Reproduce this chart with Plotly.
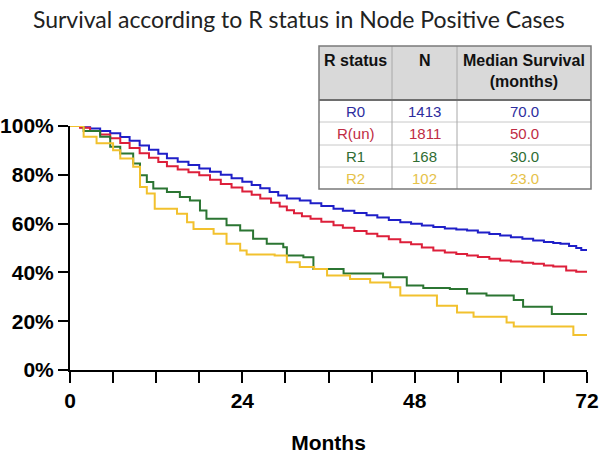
import plotly.graph_objects as go

# ---- data ----
r0_months = [0, 1.5, 2.8, 4.2, 5.6, 7, 8.3, 9.7, 11, 12.3, 13.5, 15, 16.5, 18, 19.5, 21, 22.5, 24, 25.3, 26.5,
             27.8, 29, 30.2, 32, 33.5, 35, 36.7, 38, 39.6, 41.3, 42.8, 44.4, 46, 47.5, 49, 50.6, 52.2, 53.8,
             55.3, 56.8, 58.4, 59.9, 61.4, 63, 64.5, 66, 67.3, 68.3, 69.5, 70.5, 71.2, 72]
r0_surv = [100, 99.5, 99, 98, 97, 95.5, 94, 92, 90.3, 88.6, 86.8, 85.3, 84, 82.6, 81.3, 80, 78.6, 77.2, 75.8, 74.5,
           73, 71.5, 70.3, 69.5, 68.3, 67.2, 66.1, 65.3, 64.3, 63.4, 62.5, 61.5, 60.6, 59.9, 59.2, 58.6, 58, 57.6,
           57.2, 56.4, 55.7, 55.1, 54.4, 53.8, 53.1, 52.5, 52, 51.7, 50.8, 50, 49.2, 49.2]

run_months = [0, 1.4, 2.8, 4.2, 5.6, 7, 8.3, 9.7, 11, 12.3, 13.5, 15, 16.5, 18, 19.5, 21, 22.5, 24, 25.3, 26.5,
              28, 29.2, 30.2, 31.2, 32.3, 33.5, 35, 36.7, 38, 39.6, 41.3, 42.8, 44.4, 46, 47.5, 49, 50.6, 52.2,
              53.8, 55.3, 56.8, 58.4, 59.9, 61.4, 63, 64.5, 66, 67.3, 69.1, 70.5, 72]
run_surv = [100, 99.3, 98, 96.5, 95, 93, 91, 88.8, 87, 85.2, 83.5, 82.2, 81, 79.8, 78, 76.2, 74.8, 73.2, 71.8, 70.3,
            68.5, 67, 65.5, 64.2, 63, 62, 60.8, 59.3, 58.3, 57, 55.8, 54.8, 53.6, 52.4, 51.5, 50.2, 49, 48.2,
            47.5, 46.9, 46.3, 45.6, 44.9, 44.5, 44, 43.5, 42.8, 42.4, 40.8, 40.3, 40.3]

r1_months = [0, 1.9, 4.2, 5.6, 7, 8.8, 9.75, 10.7, 11.6, 13.5, 15.3, 16.7, 18.1, 19, 21.8, 23.7, 25.5, 27.4, 29.7,
             30.2, 32.5, 33.9, 38.1, 43.6, 46.9, 49.2, 52.9, 55.3, 58, 61.8, 63.1, 67.1, 72]
r1_surv = [100, 98, 95.6, 91.5, 88.7, 84.6, 79.8, 77, 74.4, 73, 70.9, 69.5, 65.4, 62, 59.3, 57.2, 53.8, 51.7, 50.3,
           46.9, 46.2, 41.4, 39.6, 38, 34.6, 33.6, 33.2, 31.4, 30.5, 28.7, 25.9, 22.9, 22.9]

r2_months = [0, 1.9, 3.7, 6, 7, 8.8, 9.75, 10.7, 11.8, 14.9, 16.3, 17.2, 20, 21.8, 23.7, 24.6, 28.5, 30.2, 32, 34,
             35.8, 39, 41.8, 44.6, 46, 51.1, 53.9, 56.2, 60.8, 61.8, 70.1, 72]
r2_surv = [100, 95.6, 92.9, 90.1, 86.7, 83.3, 75, 72.3, 66.1, 64, 60.6, 57.8, 55.8, 51.7, 49, 47.3, 46.9, 44.2, 42.2,
           41.4, 38.7, 37.3, 35.9, 33.9, 30.5, 26.3, 23.6, 21.8, 19.5, 17.8, 14.3, 14.3]

groups = ["R0", "R(un)", "R1", "R2"]
group_n = ["1413", "1811", "168", "102"]
group_median = ["70.0", "50.0", "30.0", "23.0"]
header_labels = ["R status", "N", "Median Survival<br>(months)"]

x_tickvals = list(range(0, 73, 6))
x_ticktext = [str(v) if v % 24 == 0 else "" for v in x_tickvals]
y_tickvals = [0, 20, 40, 60, 80, 100]
y_ticktext = [f"{v}%" for v in y_tickvals]

line_colors = ["#1f1fc8", "#dd1f3a", "#2b7532", "#f2c12e"]
text_colors = ["#2d2d9e", "#c02c44", "#2f6d33", "#e6c24a"]

FONT = "Liberation Sans, Arial, sans-serif"

fig = go.Figure()
series = [(r0_months, r0_surv), (run_months, run_surv), (r1_months, r1_surv), (r2_months, r2_surv)]
for name, (xs, ys), col in zip(groups, series, line_colors):
    fig.add_trace(go.Scatter(x=xs, y=ys, mode="lines", name=name, line=dict(color=col, width=2, shape="hv"),
                             cliponaxis=False, showlegend=False, hoverinfo="skip"))

# plot area geometry (pixels)
L, R, T, B = 70, 587, 126, 370
W, H = 600, 455


def px(xp):
    return (xp - L) / (R - L)


def py(yp):
    return (B - yp) / (B - T)


shapes = []
annotations = []

# table geometry
tx = [319, 392, 457, 591]
ty = [46, 100, 122, 145, 167, 189]

shapes.append(dict(type="rect", xref="paper", yref="paper", x0=px(tx[0]), x1=px(tx[3]), y0=py(ty[1]), y1=py(ty[0]),
                   fillcolor="#d9d9d9", line=dict(width=0), layer="above"))
shapes.append(dict(type="rect", xref="paper", yref="paper", x0=px(tx[0]), x1=px(tx[3]), y0=py(ty[5]), y1=py(ty[1]),
                   fillcolor="white", line=dict(width=0), layer="above"))
for yy in ty[2:5]:
    shapes.append(dict(type="line", xref="paper", yref="paper", x0=px(tx[0]), x1=px(tx[3]), y0=py(yy), y1=py(yy),
                       line=dict(color="#c8c8c8", width=1), layer="above"))
for xx in tx[1:3]:
    shapes.append(dict(type="line", xref="paper", yref="paper", x0=px(xx), x1=px(xx), y0=py(ty[5]), y1=py(ty[0]),
                       line=dict(color="#a8a8a8", width=1), layer="above"))
shapes.append(dict(type="line", xref="paper", yref="paper", x0=px(tx[0]), x1=px(tx[3]), y0=py(ty[1]), y1=py(ty[1]),
                   line=dict(color="#6e6e6e", width=2), layer="above"))
shapes.append(dict(type="rect", xref="paper", yref="paper", x0=px(tx[0]), x1=px(tx[3]), y0=py(ty[5]), y1=py(ty[0]),
                   line=dict(color="#7a7a7a", width=1.5), layer="above"))

col_centers = [(tx[i] + tx[i + 1]) / 2 for i in range(3)]
for i, lab in enumerate(header_labels):
    annotations.append(dict(xref="paper", yref="paper", x=px(col_centers[i]), y=py(50), xanchor="center",
                            yanchor="top", text=f"<b>{lab}</b>", showarrow=False,
                            font=dict(family=FONT, size=16, color="#111")))
for r in range(4):
    yc = (ty[r + 1] + ty[r + 2]) / 2
    for c, val in enumerate([groups[r], group_n[r], group_median[r]]):
        annotations.append(dict(xref="paper", yref="paper", x=px(col_centers[c]), y=py(yc), xanchor="center",
                                yanchor="middle", text=val, showarrow=False,
                                font=dict(family=FONT, size=15, color=text_colors[r])))

fig.update_layout(
    width=W, height=H,
    margin=dict(l=L, r=W - R, t=T, b=H - B, autoexpand=False),
    paper_bgcolor="white", plot_bgcolor="white",
    hovermode=False,
    title=dict(text="Survival according to R status in Node Positive Cases", xref="container", x=0.498,
               xanchor="center", yref="container", y=1 - 20 / H, yanchor="middle", automargin=False,
               font=dict(family="Lato, Noto Sans, sans-serif", size=23, color="#222")),
    xaxis=dict(range=[0, 72], tickvals=x_tickvals, ticktext=x_ticktext, ticks="outside", ticklen=11,
               tickwidth=2, tickcolor="black", showline=True, linewidth=2, linecolor="black",
               showgrid=False, zeroline=False, automargin=False, fixedrange=True,
               tickfont=dict(family=FONT, size=21, color="black", weight="bold"),
               title=dict(text="Months", font=dict(family=FONT, size=21, color="black", weight="bold"),
                          standoff=24)),
    yaxis=dict(range=[0, 100], tickvals=y_tickvals, ticktext=y_ticktext, ticks="outside", ticklen=10,
               tickwidth=2, tickcolor="black", showline=True, linewidth=2, linecolor="black",
               showgrid=False, zeroline=False, automargin=False, fixedrange=True,
               tickfont=dict(family=FONT, size=21, color="black", weight="bold")),
    shapes=shapes, annotations=annotations,
)

fig.write_html("out.html", config={"displayModeBar": False},
               post_script="document.body.style.margin='0px';document.body.style.overflow='hidden';")
